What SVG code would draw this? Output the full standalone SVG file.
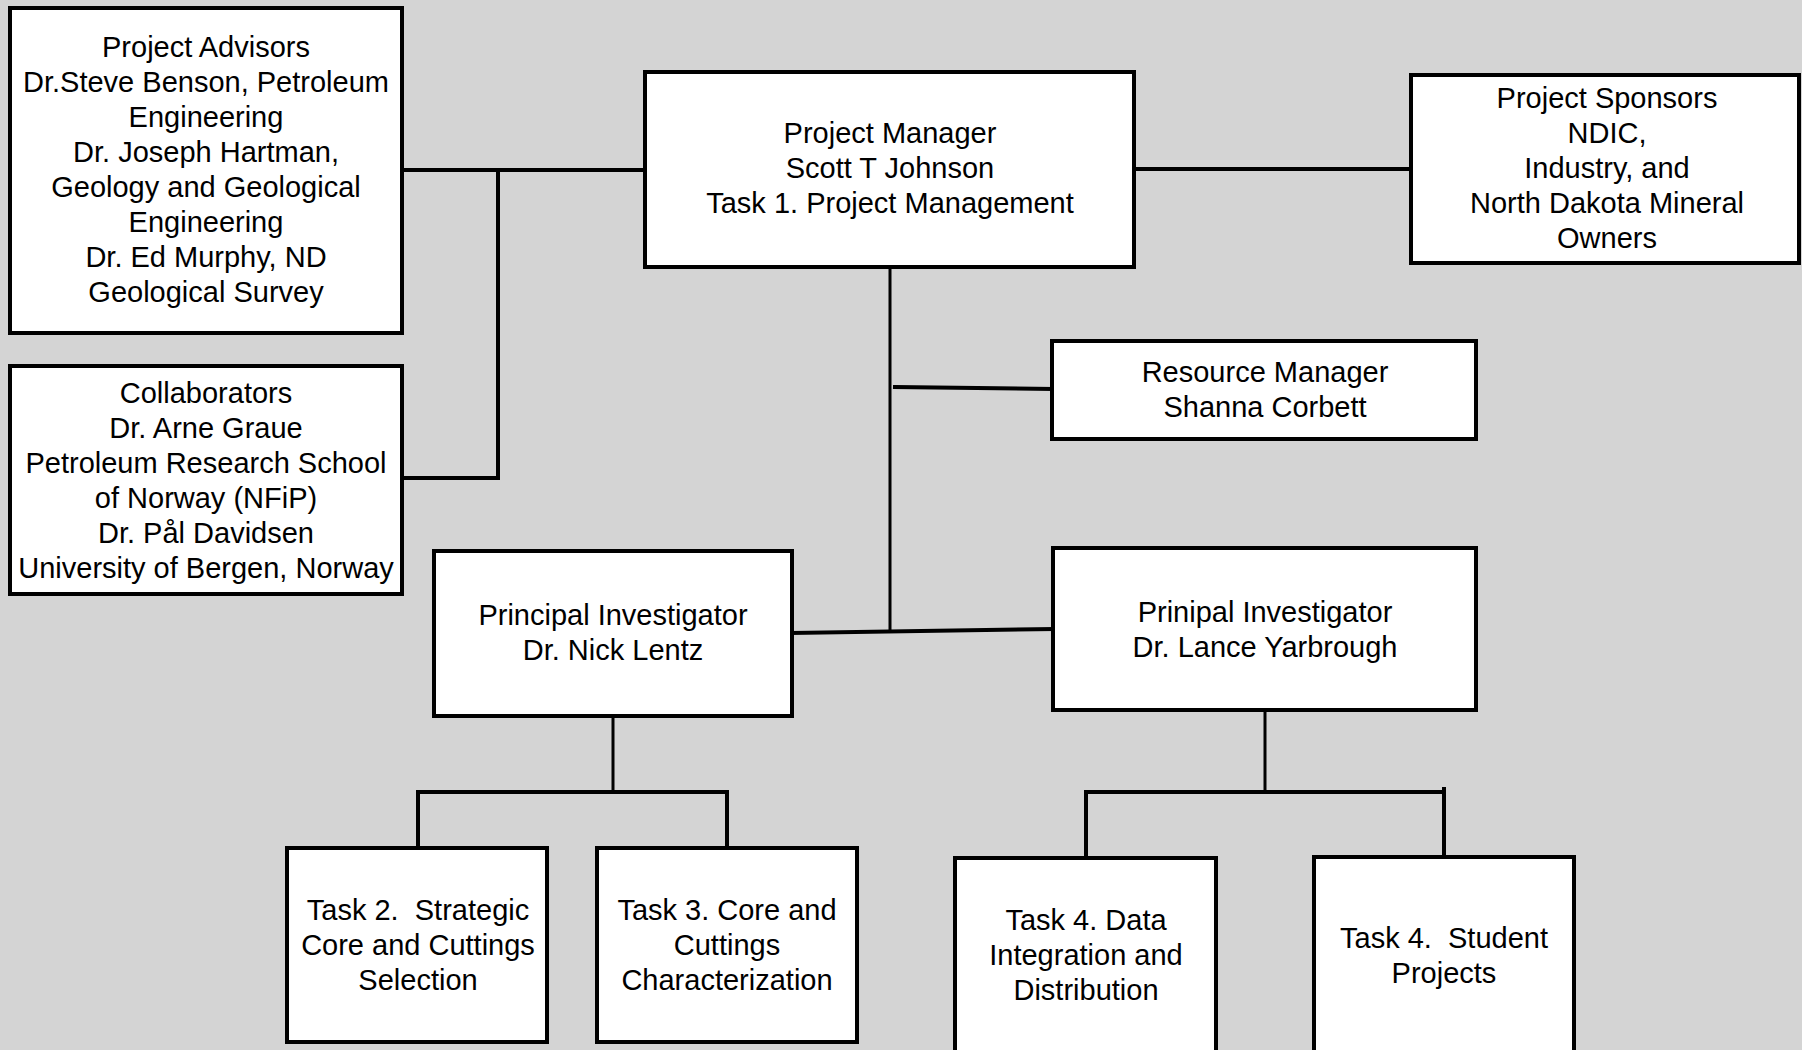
<svg xmlns="http://www.w3.org/2000/svg" width="1802" height="1050" viewBox="0 0 1802 1050">
<style>
.box{fill:#ffffff;stroke:#000000;stroke-width:4}
.ln{fill:none;stroke:#000000;stroke-width:4;stroke-linecap:square}
.thin{stroke-width:3}
text{font-family:"Liberation Sans",Arial,sans-serif;font-size:29px;fill:#000000;text-anchor:middle;white-space:pre}
</style>
<rect x="0" y="0" width="1802" height="1050" fill="#d4d4d4"/>
<g id="connectors">
<polyline class="ln" points="402,170 644,170"/>
<polyline class="ln" points="498,170 498,478 402,478"/>
<polyline class="ln" points="1134,169 1410,169"/>
<line class="ln thin" x1="890" y1="268" x2="890" y2="631"/>
<line class="ln" x1="895" y1="387" x2="1052" y2="389"/>
<line class="ln" x1="792" y1="633" x2="1053" y2="629"/>
<line class="ln thin" x1="613" y1="716" x2="613" y2="792"/>
<polyline class="ln" points="418,846 418,792 727,792 727,846"/>
<line class="ln thin" x1="1265" y1="711" x2="1265" y2="792"/>
<polyline class="ln" points="1086,857 1086,792 1444,792"/>
<line class="ln" x1="1444" y1="789" x2="1444" y2="856"/>
</g>
<g id="advisors">
<rect class="box" x="10" y="8" width="392" height="325"/>
<text x="206" y="57">Project Advisors</text>
<text x="206" y="92">Dr.Steve Benson, Petroleum</text>
<text x="206" y="127">Engineering</text>
<text x="206" y="162">Dr. Joseph Hartman,</text>
<text x="206" y="197">Geology and Geological</text>
<text x="206" y="232">Engineering</text>
<text x="206" y="267">Dr. Ed Murphy, ND</text>
<text x="206" y="302">Geological Survey</text>
</g>
<g id="collaborators">
<rect class="box" x="10" y="366" width="392" height="228"/>
<text x="206" y="403">Collaborators</text>
<text x="206" y="438">Dr. Arne Graue</text>
<text x="206" y="473">Petroleum Research School</text>
<text x="206" y="508">of Norway (NFiP)</text>
<text x="206" y="543">Dr. Pål Davidsen</text>
<text x="206" y="578">University of Bergen, Norway</text>
</g>
<g id="pm">
<rect class="box" x="645" y="72" width="489" height="195"/>
<text x="890" y="143">Project Manager</text>
<text x="890" y="178">Scott T Johnson</text>
<text x="890" y="213">Task 1. Project Management</text>
</g>
<g id="sponsors">
<rect class="box" x="1411" y="75" width="388" height="188"/>
<text x="1607" y="108">Project Sponsors</text>
<text x="1607" y="143">NDIC,</text>
<text x="1607" y="178">Industry, and</text>
<text x="1607" y="213">North Dakota Mineral</text>
<text x="1607" y="248">Owners</text>
</g>
<g id="resource">
<rect class="box" x="1052" y="341" width="424" height="98"/>
<text x="1265" y="382">Resource Manager</text>
<text x="1265" y="417">Shanna Corbett</text>
</g>
<g id="pi-lentz">
<rect class="box" x="434" y="551" width="358" height="165"/>
<text x="613" y="625">Principal Investigator</text>
<text x="613" y="660">Dr. Nick Lentz</text>
</g>
<g id="pi-yarbrough">
<rect class="box" x="1053" y="548" width="423" height="162"/>
<text x="1265" y="622">Prinipal Investigator</text>
<text x="1265" y="657">Dr. Lance Yarbrough</text>
</g>
<g id="task2">
<rect class="box" x="287" y="848" width="260" height="194"/>
<text x="418" y="920" xml:space="preserve">Task 2.  Strategic</text>
<text x="418" y="955">Core and Cuttings</text>
<text x="418" y="990">Selection</text>
</g>
<g id="task3">
<rect class="box" x="597" y="848" width="260" height="194"/>
<text x="727" y="920">Task 3. Core and</text>
<text x="727" y="955">Cuttings</text>
<text x="727" y="990">Characterization</text>
</g>
<g id="task4a">
<rect class="box" x="955" y="858" width="261" height="200"/>
<text x="1086" y="930">Task 4. Data</text>
<text x="1086" y="965">Integration and</text>
<text x="1086" y="1000">Distribution</text>
</g>
<g id="task4b">
<rect class="box" x="1314" y="857" width="260" height="200"/>
<text x="1444" y="948" xml:space="preserve">Task 4.  Student</text>
<text x="1444" y="983">Projects</text>
</g>
</svg>
